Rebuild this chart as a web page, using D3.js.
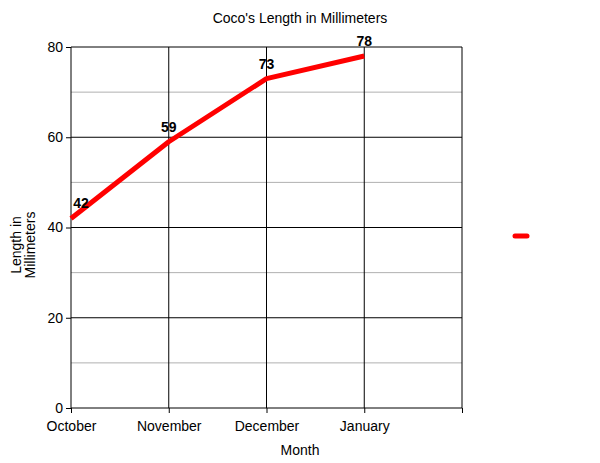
<!DOCTYPE html>
<html>
<head>
<meta charset="utf-8">
<script src="https://cdn.jsdelivr.net/npm/d3@7"></script>
<style>
  body { margin: 0; background: #fff; }
  text { font-family: "Liberation Sans", Arial, sans-serif; }
</style>
</head>
<body>
<div id="chart"></div>
<script>
// data
const months = ["October", "November", "December", "January"]
const lengths = [42, 59, 73, 78]
const yTicks = [0, 20, 40, 60, 80]
const yMinor = [10, 30, 50, 70]

const width = 600
const height = 463
const margin = { top: 47, right: 138, bottom: 55, left: 71 }
const innerW = width - margin.left - margin.right
const innerH = height - margin.top - margin.bottom
const fontSize = 14

const svg = d3.select("#chart")
    .append("svg")
    .attr("width", width)
    .attr("height", height)

// one empty slot after January, like the original
const slots = months.concat([""])
const x = d3.scalePoint().domain(slots).range([0, innerW])
const y = d3.scaleLinear().domain([0, 80]).range([innerH, 0])

const g = svg.append("g")
    .attr("transform", `translate(${margin.left},${margin.top})`)

// minor horizontal grid
g.selectAll(".minor")
    .data(yMinor)
    .join("line")
    .attr("x1", 0).attr("x2", innerW)
    .attr("y1", d => y(d)).attr("y2", d => y(d))
    .attr("stroke", "#b0b0b0")
    .attr("stroke-width", 1)

// major horizontal grid
g.selectAll(".major")
    .data(yTicks)
    .join("line")
    .attr("x1", 0).attr("x2", innerW)
    .attr("y1", d => y(d)).attr("y2", d => y(d))
    .attr("stroke", "#000")
    .attr("stroke-width", 1)

// vertical grid at each category slot
g.selectAll(".vgrid")
    .data(slots)
    .join("line")
    .attr("x1", d => x(d)).attr("x2", d => x(d))
    .attr("y1", 0).attr("y2", innerH)
    .attr("stroke", "#000")
    .attr("stroke-width", 1)

// y axis
const yAxis = g.append("g")
    .call(d3.axisLeft(y).tickValues(yTicks).tickSize(5).tickPadding(3))
yAxis.select(".domain").remove()
yAxis.selectAll("text").attr("font-size", fontSize).attr("fill", "#000")
    .style("font-family", "'Liberation Sans', Arial, sans-serif")

// x axis
const xAxis = g.append("g")
    .attr("transform", `translate(0,${innerH})`)
    .call(d3.axisBottom(x).tickSize(5).tickPadding(8))
xAxis.select(".domain").remove()
xAxis.selectAll("text").attr("font-size", fontSize).attr("fill", "#000")
    .style("font-family", "'Liberation Sans', Arial, sans-serif")

// the line
const line = d3.line()
    .x((d, i) => x(months[i]))
    .y(d => y(d))

g.append("path")
    .datum(lengths)
    .attr("d", line)
    .attr("fill", "none")
    .attr("stroke", "#ff0000")
    .attr("stroke-width", 5)
    .attr("stroke-linejoin", "round")

// value labels, pushed inside the plot where they would hit the axis
g.selectAll(".val")
    .data(lengths)
    .join("text")
    .attr("x", (d, i) => Math.max(x(months[i]), 10))
    .attr("y", d => y(d) - 10)
    .attr("text-anchor", "middle")
    .attr("font-size", fontSize)
    .attr("font-weight", "bold")
    .text(d => d)

// title
svg.append("text")
    .attr("x", 300)
    .attr("y", 23)
    .attr("text-anchor", "middle")
    .attr("font-size", fontSize)
    .text("Coco's Length in Millimeters")

// x title
svg.append("text")
    .attr("x", 300)
    .attr("y", 455)
    .attr("text-anchor", "middle")
    .attr("font-size", fontSize)
    .text("Month")

// y title, two lines
const yTitle = svg.append("text")
    .attr("transform", "translate(21,245) rotate(-90)")
    .attr("text-anchor", "middle")
    .attr("font-size", fontSize)
yTitle.append("tspan").attr("x", 0).attr("dy", 0).text("Length in")
yTitle.append("tspan").attr("x", 0).attr("dy", 14).text("Millimeters")

// legend swatch (no label in the original)
svg.append("line")
    .attr("x1", 515).attr("x2", 527)
    .attr("y1", 236).attr("y2", 236)
    .attr("stroke", "#ff0000")
    .attr("stroke-width", 5)
    .attr("stroke-linecap", "round")
</script>
</body>
</html>
